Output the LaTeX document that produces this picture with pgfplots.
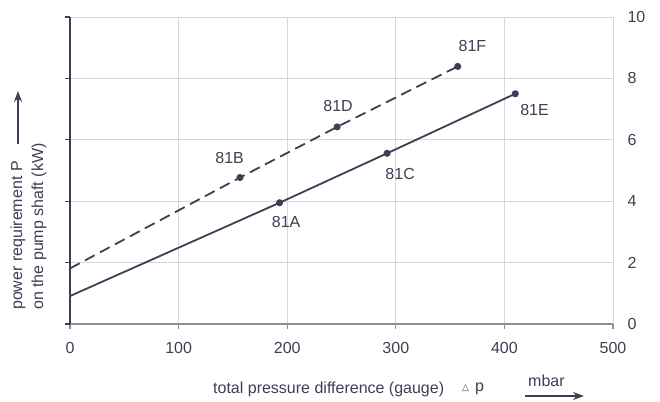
\documentclass[border=0pt]{standalone}
\usepackage{pgfplots}
\pgfplotsset{compat=1.18}
\usetikzlibrary{arrows.meta}
\usepackage{fontspec}
\setmainfont{Liberation Sans}
\newfontfamily\dejavu{DejaVu Sans}
\definecolor{darkc}{RGB}{58,65,84}
\definecolor{textc}{RGB}{58,65,84}
\definecolor{gridc}{RGB}{214,214,219}
\definecolor{axgrey}{RGB}{138,142,153}
\newcommand{\fs}{\fontsize{16}{19}\selectfont}
\begin{document}
\color{textc}
\begin{tikzpicture}
\useasboundingbox (-70pt,-77pt) rectangle (590pt,324pt);
\begin{axis}[
  scale only axis,
  width=543pt, height=307pt,
  xmin=0, xmax=500, ymin=0, ymax=10,
  xtick={0,100,...,500},
  ytick={0,2,...,10},
  grid=major,
  grid style={draw=gridc, line width=0.9pt},
  axis line style={draw=none},
  xtick pos=bottom,
  ytick pos=left,
  yticklabel pos=right,
  tick align=outside,
  major tick length=5pt,
  xtick style={draw=axgrey, line width=1.2pt},
  ytick style={draw=darkc, line width=1.2pt},
  /pgf/number format/assume math mode=true,
  every tick label/.append style={font=\fs, text=textc},
  yticklabel style={anchor=west, xshift=6pt},
  xticklabel style={yshift=-10pt},
  clip=false,
]
\draw[axgrey, line width=2.2pt] (axis cs:0,0) -- (axis cs:500,0);
\draw[darkc, line width=1.6pt] (axis cs:0,0) -- (axis cs:0,10);
\addplot[darkc, line width=1.8pt, mark=*, mark size=2.6pt, mark indices={2,3,4}]
  coordinates {(0,0.91) (193,3.95) (292,5.56) (410,7.5)};
\addplot[darkc, line width=1.8pt, dash pattern=on 11pt off 6pt, mark=*, mark size=2.6pt,
  mark options={solid}, mark indices={2,3,4}]
  coordinates {(0,1.81) (156.5,4.77) (246,6.42) (357,8.39)};
\node[font=\fs] at (axis cs:199,3.32) {81A};
\node[font=\fs] at (axis cs:147,5.42) {81B};
\node[font=\fs] at (axis cs:304,4.90) {81C};
\node[font=\fs] at (axis cs:246.8,7.10) {81D};
\node[font=\fs] at (axis cs:427.7,6.97) {81E};
\node[font=\fs] at (axis cs:370.6,9.05) {81F};
\end{axis}
% axis labels
\node[font=\fs, anchor=west, inner sep=0pt] at (143pt,-65pt) {total pressure difference (gauge)};
\node[font=\dejavu\fontsize{9}{10}\selectfont, anchor=west, inner sep=0pt] at (392pt,-64pt) {△};
\node[font=\fs, anchor=west, inner sep=0pt] at (405pt,-65pt) {p};
\node[font=\fs, anchor=west, inner sep=0pt] at (458pt,-57pt) {mbar};
\draw[darkc, line width=1.6pt, -{Stealth[length=11pt,width=8pt]}] (455pt,-72pt) -- (514pt,-72pt);
\node[font=\fs, rotate=90, anchor=west, inner sep=0pt] at (-52pt,14pt) {power requirement P};
\node[font=\fs, rotate=90, anchor=west, inner sep=0pt] at (-31pt,14pt) {on the pump shaft (kW)};
\draw[darkc, line width=1.6pt, -{Stealth[length=11pt,width=8pt]}] (-52pt,180pt) -- (-52pt,233pt);
\end{tikzpicture}
\end{document}
